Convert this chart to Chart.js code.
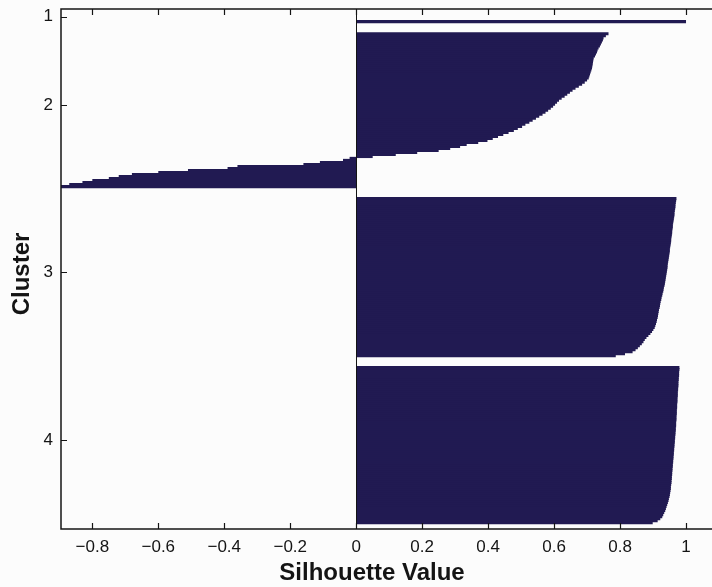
<!DOCTYPE html>
<html>
<head>
<meta charset="utf-8">
<script src="https://cdn.jsdelivr.net/npm/chart.js@4.4.0/dist/chart.umd.min.js"></script>
<style>
  html, body { margin: 0; padding: 0; background: #fcfcfc; overflow: hidden; }
  #wrap { width: 712px; height: 587px; overflow: hidden; }
</style>
</head>
<body>
<div id="wrap"><canvas id="silChart" width="732" height="587"></canvas></div>
<script>
// silhouette value of every point, sorted within its cluster (largest first)
const clusterNames = ['1', '2', '3', '4'];
const silCluster1 = [1.0];
const silCluster2 = [
  0.765, 0.757, 0.750, 0.748, 0.745, 0.742, 0.739, 0.735, 0.732, 0.730,
  0.727, 0.724, 0.720, 0.719, 0.718, 0.717, 0.716, 0.715, 0.713, 0.711,
  0.709, 0.707, 0.705, 0.700, 0.693, 0.685, 0.675, 0.665, 0.656, 0.648,
  0.640, 0.632, 0.623, 0.615, 0.609, 0.603, 0.597, 0.590, 0.582, 0.574,
  0.565, 0.555, 0.545, 0.535, 0.525, 0.513, 0.503, 0.490, 0.478, 0.462,
  0.446, 0.430, 0.414, 0.398, 0.370, 0.335, 0.315, 0.285, 0.250, 0.185,
  0.120, 0.050, -0.020, -0.040, -0.110, -0.160, -0.360, -0.390, -0.510, -0.600,
  -0.680, -0.720, -0.750, -0.800, -0.830, -0.870, -0.895
];
const silCluster3 = [
  0.971, 0.970, 0.969, 0.968, 0.968, 0.967, 0.966, 0.965, 0.965, 0.964,
  0.963, 0.962, 0.961, 0.960, 0.960, 0.959, 0.958, 0.958, 0.957, 0.956,
  0.955, 0.955, 0.954, 0.953, 0.952, 0.951, 0.951, 0.950, 0.949, 0.948,
  0.947, 0.946, 0.945, 0.944, 0.944, 0.943, 0.942, 0.941, 0.940, 0.939,
  0.938, 0.937, 0.936, 0.935, 0.933, 0.932, 0.931, 0.929, 0.928, 0.926,
  0.925, 0.923, 0.922, 0.921, 0.920, 0.918, 0.917, 0.916, 0.915, 0.914,
  0.912, 0.911, 0.909, 0.907, 0.905, 0.901, 0.897, 0.892, 0.886, 0.880,
  0.875, 0.871, 0.866, 0.860, 0.854, 0.847, 0.838, 0.815, 0.787
];
const silCluster4 = [
  0.980, 0.980, 0.979, 0.979, 0.979, 0.978, 0.978, 0.977, 0.977, 0.977,
  0.976, 0.976, 0.975, 0.975, 0.975, 0.974, 0.974, 0.974, 0.973, 0.973,
  0.973, 0.972, 0.972, 0.972, 0.971, 0.971, 0.971, 0.970, 0.970, 0.970,
  0.969, 0.969, 0.968, 0.968, 0.967, 0.967, 0.966, 0.966, 0.965, 0.965,
  0.964, 0.964, 0.963, 0.963, 0.962, 0.962, 0.961, 0.961, 0.960, 0.960,
  0.959, 0.959, 0.958, 0.958, 0.957, 0.957, 0.956, 0.956, 0.955, 0.954,
  0.954, 0.953, 0.952, 0.951, 0.950, 0.948, 0.947, 0.945, 0.943, 0.941,
  0.939, 0.937, 0.934, 0.931, 0.928, 0.922, 0.914, 0.899
];

const gapRows = 5;       // empty rows between clusters
const tickShift = -2.5;  // cluster labels sit a little above the middle row

const ink = '#141414';
const barColor = '#211a52';
const font = "'Liberation Sans', Arial, Helvetica, sans-serif";

// lay the points out row by row, one band per cluster
const rows = [];
const centers = [];
let pos = 1;
[silCluster1, silCluster2, silCluster3, silCluster4].forEach(vals => {
  const start = pos;
  vals.forEach(v => { rows.push({ x: v, y: pos }); pos++; });
  centers.push((start + pos - 1) / 2);
  pos += gapRows;
});
const allValues = rows.map(r => r.x);

// box, inward ticks, zero line and the two axis titles
const framePlugin = {
  id: 'frame',
  afterDatasetsDraw(chart) {
    const { ctx, chartArea: a, scales: { x, y } } = chart;
    ctx.save();
    ctx.strokeStyle = ink;

    ctx.lineWidth = 1;
    const x0 = Math.round(x.getPixelForValue(0)) + 0.5;
    ctx.beginPath();
    ctx.moveTo(x0, a.top);
    ctx.lineTo(x0, a.bottom);
    ctx.stroke();

    ctx.lineWidth = 1.5;
    ctx.strokeRect(a.left, a.top, a.right - a.left, a.bottom - a.top);

    ctx.beginPath();
    x.ticks.forEach(t => {
      const px = Math.round(x.getPixelForValue(t.value)) + 0.5;
      ctx.moveTo(px, a.bottom); ctx.lineTo(px, a.bottom - 6);
      ctx.moveTo(px, a.top); ctx.lineTo(px, a.top + 6);
    });
    y.ticks.forEach(t => {
      const py = Math.round(y.getPixelForValue(t.value)) + 0.5;
      ctx.moveTo(a.left, py); ctx.lineTo(a.left + 6, py);
      ctx.moveTo(a.right, py); ctx.lineTo(a.right - 6, py);
    });
    ctx.lineWidth = 1.2;
    ctx.stroke();

    ctx.fillStyle = ink;
    ctx.font = 'bold 24px ' + font;
    ctx.textAlign = 'center';
    ctx.textBaseline = 'middle';
    ctx.fillText('Silhouette Value', 372, 573);
    ctx.translate(22.5, 274);
    ctx.rotate(-Math.PI / 2);
    ctx.fillText('Cluster', 0, 0);
    ctx.restore();
  }
};

new Chart(document.getElementById('silChart'), {
  type: 'bar',
  data: {
    datasets: [{
      data: rows,
      backgroundColor: barColor,
      borderWidth: 0,
      barPercentage: 1.6,
      categoryPercentage: 1,
      grouped: false
    }]
  },
  options: {
    indexAxis: 'y',
    responsive: false,
    devicePixelRatio: 1,
    animation: false,
    layout: { padding: { left: 0, right: 13, top: 9, bottom: 0 } },
    plugins: { legend: { display: false }, tooltip: { enabled: false } },
    scales: {
      x: {
        type: 'linear',
        offset: false,
        min: Math.min(...allValues),
        max: 1.1,
        grid: { display: false, drawTicks: false },
        border: { display: false },
        ticks: {
          stepSize: 0.2,
          includeBounds: false,
          padding: 8,
          color: ink,
          font: { size: 17, family: font },
          callback: v => {
            const r = Math.round(v * 10) / 10;
            return r < 0 ? '\u2212' + Math.abs(r) : String(Math.abs(r));
          }
        },
        afterFit: s => { s.height = 58; s.paddingLeft = 0; s.paddingRight = 0; }
      },
      y: {
        type: 'linear',
        offset: false,
        reverse: true,
        min: -5.3,
        max: 253.2,
        grid: { display: false, drawTicks: false },
        border: { display: false },
        afterBuildTicks: s => { s.ticks = centers.map(c => ({ value: c + tickShift })); },
        ticks: {
          autoSkip: false,
          padding: 8,
          color: ink,
          font: { size: 17, family: font },
          callback: (v, i) => clusterNames[i]
        },
        afterFit: s => { s.width = 61; s.paddingTop = 0; s.paddingBottom = 0; }
      }
    }
  },
  plugins: [framePlugin]
});
</script>
</body>
</html>
